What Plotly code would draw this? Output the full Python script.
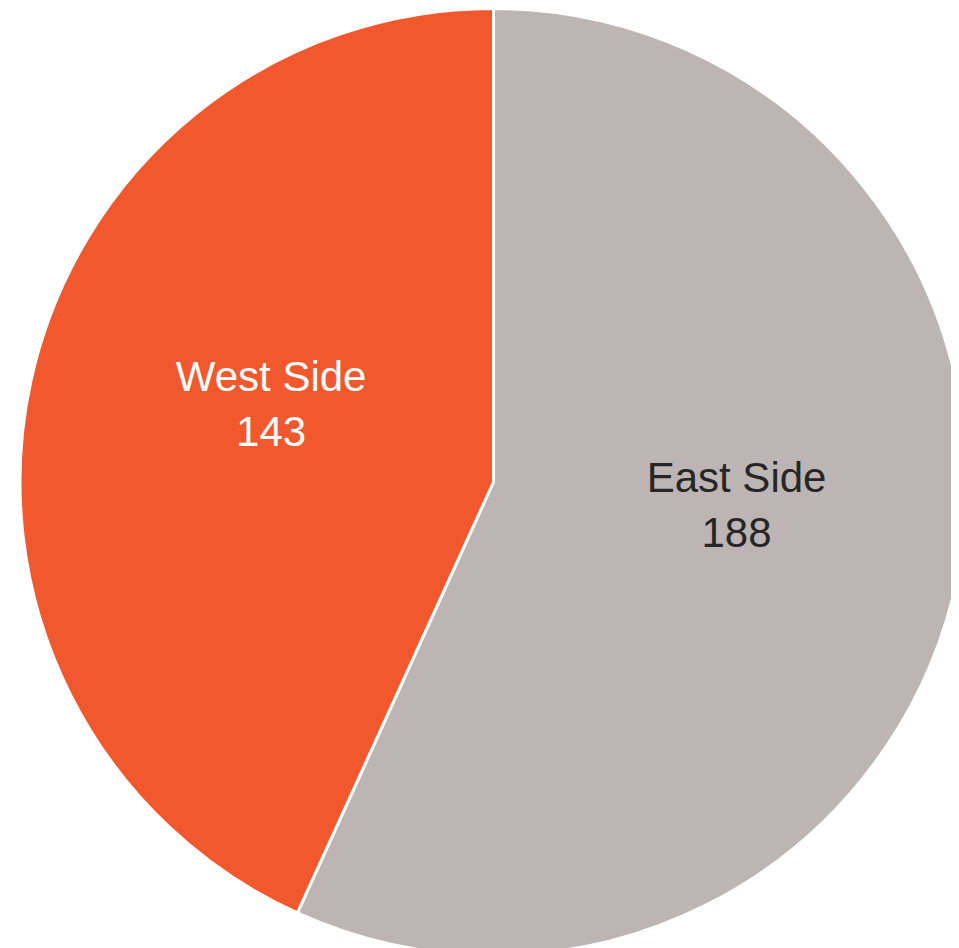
import plotly.graph_objects as go

labels = ["East Side", "West Side"]
values = [188, 143]
colors = ["#BCB5B3", "#F1582D"]
text_colors = ["#262626", "#FFFFFF"]

pad = "\u00a0\u00a0"

fig = go.Figure(go.Pie(
    labels=labels,
    values=values,
    sort=False,
    direction="clockwise",
    rotation=0,
    marker=dict(colors=colors, line=dict(color="#FFFFFF", width=3)),
    textinfo="label+value",
    texttemplate=pad + "%{label}<br>" + pad + "%{value}<br>\u00a0",
    textposition="inside",
    insidetextorientation="horizontal",
    textfont=dict(family="Liberation Sans, Arial, sans-serif", size=42, color=text_colors),
    showlegend=False,
    hoverinfo="label+value",
))

fig.update_layout(
    width=959, height=948,
    margin=dict(l=12, r=0, t=0, b=0),
    paper_bgcolor="#FFFFFF",
    plot_bgcolor="#FFFFFF",
)

fig.write_html("out.html")
